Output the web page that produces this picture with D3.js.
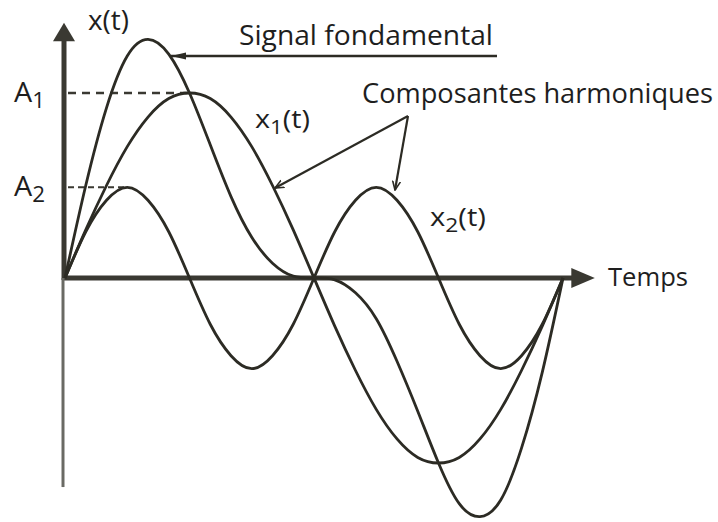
<!DOCTYPE html>
<html>
<head>
<meta charset="utf-8">
<script src="https://cdn.jsdelivr.net/npm/d3@7"></script>
<style>
  html, body { margin: 0; padding: 0; background: #fff; }
  text { font-family: "Open Sans", "Noto Sans", sans-serif; fill: #1e1e1e; }
</style>
</head>
<body>
<div id="chart"></div>
<script>
// phase of the fundamental, in degrees (one full period)
const phase = [0, 15, 30, 45, 60, 75, 90, 105, 120, 135, 150, 165, 180,
  195, 210, 225, 240, 255, 270, 285, 300, 315, 330, 345, 360];

// fundamental component x1(t), amplitude A1
const x1 = [0, 0.26, 0.50, 0.71, 0.87, 0.97, 1.00, 0.97, 0.87, 0.71, 0.50, 0.26, 0,
  -0.26, -0.50, -0.71, -0.87, -0.97, -1.00, -0.97, -0.87, -0.71, -0.50, -0.26, 0];

// second harmonic x2(t), amplitude A2
const x2 = [0, 0.25, 0.42, 0.49, 0.42, 0.25, 0, -0.25, -0.42, -0.49, -0.42, -0.25, 0,
  0.25, 0.42, 0.49, 0.42, 0.25, 0, -0.25, -0.42, -0.49, -0.42, -0.25, 0];

// resulting signal x(t)
const xs = [0, 0.50, 0.92, 1.20, 1.29, 1.21, 1.00, 0.72, 0.44, 0.22, 0.08, 0.01, 0,
  -0.01, -0.08, -0.22, -0.45, -0.72, -1.00, -1.22, -1.29, -1.20, -0.92, -0.51, 0];

const A1 = 1.00;
const A2 = 0.49;

const width = 718;
const height = 522;
const ink = "#2c2b24";

const svg = d3.select("#chart")
  .append("svg")
  .attr("width", width)
  .attr("height", height);

const x = d3.scaleLinear().domain([0, 360]).range([65, 563]);
const y = d3.scaleLinear().domain([0, 1]).range([278, 93]);

// --- Arrow markers ---
const defs = svg.append("defs");
defs.append("marker")
  .attr("id", "head")
  .attr("viewBox", "0 -5 10 10")
  .attr("refX", 9).attr("refY", 0)
  .attr("markerWidth", 10).attr("markerHeight", 10)
  .attr("markerUnits", "userSpaceOnUse")
  .attr("orient", "auto")
  .append("path")
  .attr("d", "M0,-4L9,0L0,4")
  .attr("fill", "none")
  .attr("stroke", ink)
  .attr("stroke-width", 1.6);

defs.append("marker")
  .attr("id", "solid")
  .attr("viewBox", "0 -5 16 10")
  .attr("refX", 15).attr("refY", 0)
  .attr("markerWidth", 16).attr("markerHeight", 10)
  .attr("markerUnits", "userSpaceOnUse")
  .attr("orient", "auto")
  .append("path")
  .attr("d", "M0,-3.5L15,0L0,3.5Z")
  .attr("fill", ink);

// --- Axes ---
const ax = svg.append("g");
const x0 = x(0), y0 = y(0);

// time axis
ax.append("line")
  .attr("x1", x0 - 2).attr("y1", y0)
  .attr("x2", x(370)).attr("y2", y0)
  .attr("stroke", "#3a3932").attr("stroke-width", 5);
ax.append("path")
  .attr("d", `M${x(366)},${y0 - 10}L${x(383)},${y0}L${x(366)},${y0 + 10}Z`)
  .attr("fill", "#3a3932");

// value axis, upper part
ax.append("line")
  .attr("x1", x0 - 1).attr("y1", y0 + 2)
  .attr("x2", x0 - 1).attr("y2", y(1.31))
  .attr("stroke", "#3a3932").attr("stroke-width", 5);
ax.append("path")
  .attr("d", `M${x0 - 12},${y(1.28)}L${x0 - 1},${y(1.38)}L${x0 + 10},${y(1.28)}Z`)
  .attr("fill", "#3a3932");

// value axis, lower part
ax.append("line")
  .attr("x1", x0 - 2).attr("y1", y0)
  .attr("x2", x0 - 2).attr("y2", y(-1.13))
  .attr("stroke", "#6a6a64").attr("stroke-width", 3);

// --- Amplitude guides ---
ax.append("line")
  .attr("x1", x0 + 3).attr("y1", y(A1))
  .attr("x2", x(88)).attr("y2", y(A1))
  .attr("stroke", "#3a3932").attr("stroke-width", 2.5)
  .attr("stroke-dasharray", "8,6");
ax.append("line")
  .attr("x1", x0 + 3).attr("y1", y(A2))
  .attr("x2", x(43)).attr("y2", y(A2))
  .attr("stroke", "#3a3932").attr("stroke-width", 2)
  .attr("stroke-dasharray", "6,4");

// --- Curves ---
const series = [x1, x2, xs];
const line = d3.line()
  .x((d, i) => x(phase[i]))
  .y(d => y(d))
  .curve(d3.curveNatural);

svg.append("g")
  .selectAll("path")
  .data(series)
  .enter()
  .append("path")
  .attr("d", d => line(d))
  .attr("fill", "none")
  .attr("stroke", ink)
  .attr("stroke-width", 2.8)
  .attr("stroke-linejoin", "round");

// --- Labels ("_n" marks a subscript digit) ---
function label(str, px, py, size, targetWidth) {
  const t = svg.append("text")
    .attr("x", px).attr("y", py)
    .attr("font-size", size);
  const parts = str.split(/(_\d)/).filter(p => p.length);
  let shift = 0;
  parts.forEach(p => {
    if (p.startsWith("_")) {
      t.append("tspan")
        .attr("font-size", size * 0.78)
        .attr("dy", size * 0.22)
        .text(p.slice(1));
      shift = -size * 0.22;
    } else {
      t.append("tspan").attr("dy", shift).text(p);
      shift = 0;
    }
  });
  if (targetWidth) {
    t.attr("textLength", targetWidth).attr("lengthAdjust", "spacingAndGlyphs");
  }
  return t;
}

label("x(t)", 88, 30, 27, 41);
label("Signal fondamental", 239, 45, 27, 254);
label("A_1", 14, 102, 28, 31);
label("A_2", 14, 196, 28, 31);
label("Composantes harmoniques", 362, 103, 27, 351);
label("x_1(t)", 255, 128, 26, 55);
label("x_2(t)", 430, 226, 26, 56);
label("Temps", 608, 286, 25, 80);

// --- Pointers ---
svg.append("line")
  .attr("x1", 497).attr("y1", 56)
  .attr("x2", 171).attr("y2", 56)
  .attr("stroke", ink).attr("stroke-width", 2.6)
  .attr("marker-end", "url(#solid)");

svg.append("line")
  .attr("x1", 408).attr("y1", 116)
  .attr("x2", 275).attr("y2", 188)
  .attr("stroke", ink).attr("stroke-width", 2.2)
  .attr("marker-end", "url(#head)");
svg.append("line")
  .attr("x1", 408).attr("y1", 116)
  .attr("x2", 395).attr("y2", 190)
  .attr("stroke", ink).attr("stroke-width", 2.2)
  .attr("marker-end", "url(#head)");
</script>
</body>
</html>
